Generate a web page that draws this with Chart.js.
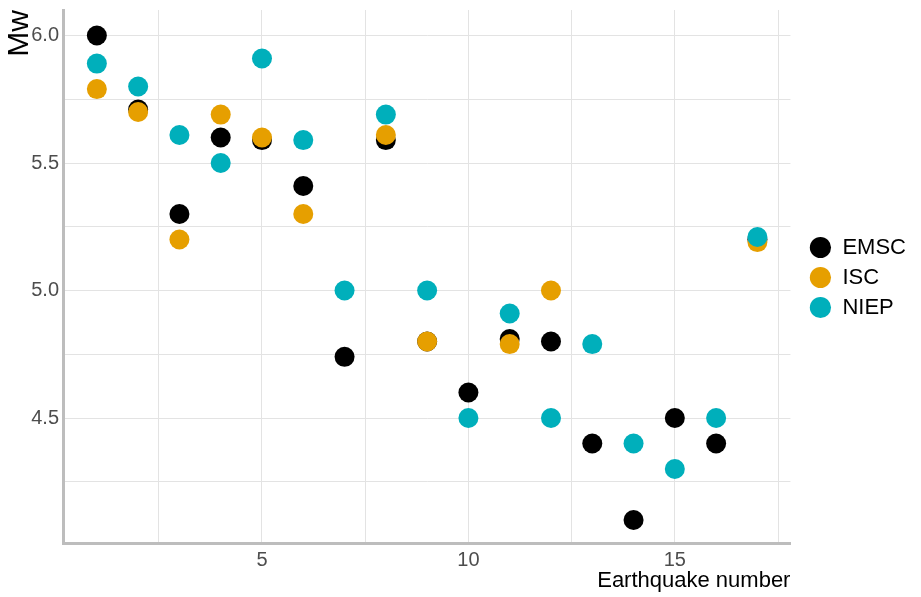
<!DOCTYPE html>
<html>
<head>
<meta charset="utf-8">
<script src="https://cdn.jsdelivr.net/npm/chart.js@4/dist/chart.umd.min.js"></script>
<style>
  html, body { margin: 0; padding: 0; background: #ffffff; }
  #wrap { width: 921px; height: 597px; }
</style>
</head>
<body>
<div id="wrap"><canvas id="c" width="921" height="597"></canvas></div>
<script>
// ---- data ----
const quakeNumbers = [1, 2, 3, 4, 5, 6, 7, 8, 9, 10, 11, 12, 13, 14, 15, 16, 17];
const emsc = [6.0, 5.71, 5.3, 5.6, 5.59, 5.41, 4.74, 5.59, 4.8, 4.6, 4.81, 4.8, 4.4, 4.1, 4.5, 4.4, 5.2];
const isc  = [5.79, 5.7, 5.2, 5.69, 5.6, 5.3, null, 5.61, 4.8, null, 4.79, 5.0, null, null, null, null, 5.19];
const niep = [5.89, 5.8, 5.61, 5.5, 5.91, 5.59, 5.0, 5.69, 5.0, 4.5, 4.91, 4.5, 4.79, 4.4, 4.3, 4.5, 5.21];
const seriesNames = ['EMSC', 'ISC', 'NIEP'];
const xTickValues = [2.5, 5, 7.5, 10, 12.5, 15, 17.5];
const xTickLabels = ['', '5', '', '10', '', '15', ''];
const yTickValues = [4.25, 4.5, 4.75, 5.0, 5.25, 5.5, 5.75, 6.0];
const yTickLabels = ['', '4.5', '', '5.0', '', '5.5', '', '6.0'];
const xTitle = 'Earthquake number';
const yTitle = 'Mw';

// ---- styling ----
const colors = ['#000000', '#E69F00', '#00AFBB'];
const narrow = "'Liberation Sans Narrow', 'Liberation Sans', Arial, sans-serif";
const regular = "'Liberation Sans', Arial, sans-serif";
const gridColor = '#e3e3e3';
const axisColor = '#bdbdbd';

const toPoints = arr => quakeNumbers.map((x, i) => ({ x: x, y: arr[i] })).filter(p => p.y !== null);
const allSeries = [emsc, isc, niep];

const datasets = allSeries.map((arr, i) => ({
  label: seriesNames[i],
  data: toPoints(arr),
  backgroundColor: colors[i],
  borderColor: colors[i],
  borderWidth: 0,
  pointRadius: 10,
  pointHoverRadius: 10,
  pointStyle: 'circle',
  order: allSeries.length - 1 - i
}));

const legendShift = {
  id: 'legendShift',
  afterLayout(chart) {
    const lg = chart.legend;
    if (!lg) return;
    lg.left += 11; lg.right += 11;
    lg.top -= 26; lg.bottom -= 26;
  }
};

new Chart(document.getElementById('c'), {
  type: 'scatter',
  data: { datasets },
  plugins: [legendShift],
  options: {
    responsive: false,
    animation: false,
    devicePixelRatio: 1,
    layout: { padding: { top: 10, left: 0, right: 16, bottom: 0 } },
    plugins: {
      tooltip: { enabled: false },
      legend: {
        position: 'right',
        align: 'center',
        labels: {
          usePointStyle: true,
          pointStyle: 'circle',
          boxWidth: 22,
          boxHeight: 15,
          padding: 8,
          color: '#000000',
          font: { family: narrow, size: 22 },
          sort: (a, b) => a.datasetIndex - b.datasetIndex
        }
      }
    },
    scales: {
      x: {
        type: 'linear',
        min: 0.18,
        max: 17.8,
        afterBuildTicks: s => { s.ticks = xTickValues.map(v => ({ value: v })); },
        afterFit: s => { s.height = 54; s.paddingLeft = 0; s.paddingRight = 0; },
        ticks: {
          autoSkip: false,
          maxRotation: 0,
          padding: 5,
          color: '#4d4d4d',
          font: { family: narrow, size: 20 },
          callback: (v, i) => xTickLabels[i]
        },
        grid: { color: gridColor, lineWidth: 1, drawTicks: false },
        border: { display: true, color: axisColor, width: 3 },
        title: {
          display: true,
          text: xTitle,
          align: 'end',
          color: '#000000',
          font: { family: regular, size: 22 },
          padding: { top: 0, bottom: 3 }
        }
      },
      y: {
        type: 'linear',
        min: 4.01,
        max: 6.10,
        afterBuildTicks: s => { s.ticks = yTickValues.map(v => ({ value: v })); },
        afterFit: s => { s.width = 63; s.paddingTop = 0; s.paddingBottom = 0; },
        ticks: {
          autoSkip: false,
          padding: 4,
          color: '#4d4d4d',
          font: { family: narrow, size: 20 },
          callback: (v, i) => yTickLabels[i]
        },
        grid: { color: gridColor, lineWidth: 1, drawTicks: false },
        border: { display: true, color: axisColor, width: 3 },
        title: {
          display: true,
          text: yTitle,
          align: 'end',
          color: '#000000',
          font: { family: regular, size: 30 },
          padding: { top: 2, bottom: 0 }
        }
      }
    }
  }
});
</script>
</body>
</html>
